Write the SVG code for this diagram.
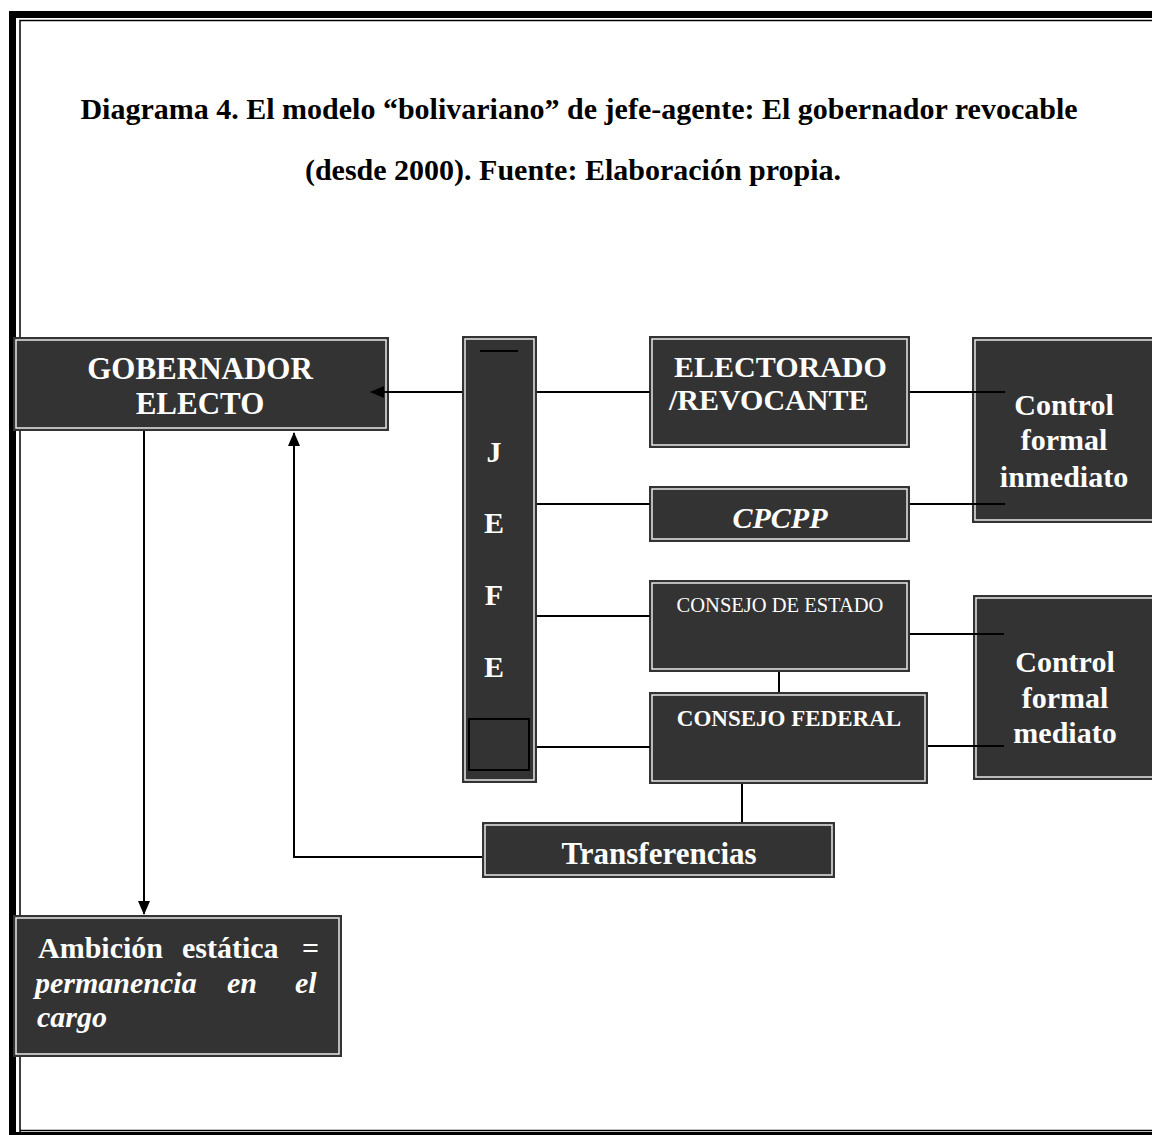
<svg xmlns="http://www.w3.org/2000/svg" width="1152" height="1135" viewBox="0 0 1152 1135">
<style>
.box{fill:#333333;stroke:#333333;stroke-width:1}
.inner{fill:none;stroke:#e8e8e8;stroke-width:1.5}
.t{font-family:"Liberation Serif","Times New Roman",serif;fill:#ffffff}
.b{font-weight:bold}
.title{font-family:"Liberation Serif","Times New Roman",serif;font-weight:bold;fill:#000000;font-size:30px}
.ln{stroke:#000000;stroke-width:2;fill:none}
</style>
<defs>
<marker id="ah" markerWidth="14" markerHeight="12" refX="13" refY="6" orient="auto" markerUnits="userSpaceOnUse">
<path d="M0,0 L14,6 L0,12 Z" fill="#000000"/>
</marker>
</defs>
<rect x="0" y="0" width="1152" height="1135" fill="#ffffff"/>
<g id="frame">
<rect x="9" y="11" width="1143" height="7" fill="#000000"/>
<rect x="9" y="11" width="7" height="1124" fill="#000000"/>
<rect x="9" y="1132" width="1143" height="3" fill="#000000"/>
<path d="M20,1152 V20.5 H1152 M20,1130.5 H1152" stroke="#000000" stroke-width="1.5" fill="none"/>
</g>
<g id="title">
<text class="title" x="579" y="119" text-anchor="middle">Diagrama 4. El modelo “bolivariano” de jefe-agente: El gobernador revocable</text>
<text class="title" x="573" y="180" text-anchor="middle">(desde 2000). Fuente: Elaboración propia.</text>
</g>
<g id="gobernador">
<rect class="box" x="13.5" y="337.5" width="375" height="93"/>
<rect class="inner" x="16" y="340" width="370" height="88"/>
<text class="t b" x="200" y="379" text-anchor="middle" font-size="31">GOBERNADOR</text>
<text class="t b" x="200" y="414" text-anchor="middle" font-size="31">ELECTO</text>
</g>
<g id="jefe">
<rect class="box" x="462.5" y="336.5" width="74" height="446"/>
<rect class="inner" x="465" y="339" width="69" height="441"/>
<line x1="480" y1="351" x2="518" y2="351" stroke="#000000" stroke-width="2"/>
<rect x="469" y="719" width="60" height="51" fill="none" stroke="#000000" stroke-width="2"/>
<text class="t b" x="494" y="462" text-anchor="middle" font-size="30">J</text>
<text class="t b" x="494" y="533" text-anchor="middle" font-size="30">E</text>
<text class="t b" x="494" y="605" text-anchor="middle" font-size="30">F</text>
<text class="t b" x="494" y="677" text-anchor="middle" font-size="30">E</text>
</g>
<g id="electorado">
<rect class="box" x="649.5" y="336.5" width="260" height="111"/>
<rect class="inner" x="652" y="339" width="255" height="106"/>
<text class="t b" x="674" y="377" font-size="30">ELECTORADO</text>
<text class="t b" x="669" y="410" font-size="30">/REVOCANTE</text>
</g>
<g id="cpcpp">
<rect class="box" x="649.5" y="486.5" width="260" height="55"/>
<rect class="inner" x="652" y="489" width="255" height="50"/>
<text class="t b" x="780" y="528" text-anchor="middle" font-size="30" font-style="italic">CPCPP</text>
</g>
<g id="control-inmediato">
<rect class="box" x="972.5" y="337.5" width="190" height="185"/>
<rect class="inner" x="975" y="340" width="190" height="180"/>
<text class="t b" x="1064" y="415" text-anchor="middle" font-size="30">Control</text>
<text class="t b" x="1064" y="450" text-anchor="middle" font-size="30">formal</text>
<text class="t b" x="1064" y="487" text-anchor="middle" font-size="30">inmediato</text>
</g>
<g id="consejo-estado">
<rect class="box" x="649.5" y="580.5" width="260" height="91"/>
<rect class="inner" x="652" y="583" width="255" height="86"/>
<text class="t" x="780" y="612" text-anchor="middle" font-size="20.5">CONSEJO DE ESTADO</text>
</g>
<g id="consejo-federal">
<rect class="box" x="649.5" y="692.5" width="278" height="91"/>
<rect class="inner" x="652" y="695" width="273" height="86"/>
<text class="t b" x="789" y="726" text-anchor="middle" font-size="23">CONSEJO FEDERAL</text>
</g>
<g id="control-mediato">
<rect class="box" x="973.5" y="595.5" width="190" height="184"/>
<rect class="inner" x="976" y="598" width="190" height="179"/>
<text class="t b" x="1065" y="672" text-anchor="middle" font-size="30">Control</text>
<text class="t b" x="1065" y="708" text-anchor="middle" font-size="30">formal</text>
<text class="t b" x="1065" y="743" text-anchor="middle" font-size="30">mediato</text>
</g>
<g id="transferencias">
<rect class="box" x="482.5" y="822.5" width="352" height="55"/>
<rect class="inner" x="485" y="825" width="347" height="50"/>
<text class="t b" x="659" y="864" text-anchor="middle" font-size="31">Transferencias</text>
</g>
<g id="ambicion">
<rect class="box" x="13.5" y="915.5" width="328" height="141"/>
<rect class="inner" x="16" y="918" width="323" height="136"/>
<text class="t b" y="958" font-size="30"><tspan x="38">Ambición</tspan><tspan x="182">estática</tspan><tspan x="302">=</tspan></text>
<text class="t b" y="993" font-size="30" font-style="italic"><tspan x="35">permanencia</tspan><tspan x="227">en</tspan><tspan x="295">el</tspan></text>
<text class="t b" x="37" y="1027" font-size="30" font-style="italic">cargo</text>
</g>
<g id="connectors">
<line class="ln" x1="462" y1="392" x2="371" y2="392" marker-end="url(#ah)"/>
<line class="ln" x1="537" y1="392" x2="650" y2="392"/>
<line class="ln" x1="537" y1="504" x2="650" y2="504"/>
<line class="ln" x1="537" y1="616" x2="650" y2="616"/>
<line class="ln" x1="537" y1="747" x2="650" y2="747"/>
<line class="ln" x1="910" y1="392" x2="1005" y2="392"/>
<line class="ln" x1="910" y1="504" x2="1005" y2="504"/>
<line class="ln" x1="910" y1="634" x2="1004" y2="634"/>
<line class="ln" x1="928" y1="746" x2="1004" y2="746"/>
<line class="ln" x1="779" y1="672" x2="779" y2="692"/>
<line class="ln" x1="742" y1="784" x2="742" y2="822"/>
<path class="ln" d="M482,857 H294 V433" marker-end="url(#ah)"/>
<line class="ln" x1="144" y1="431" x2="144" y2="914" marker-end="url(#ah)"/>
</g>
</svg>
